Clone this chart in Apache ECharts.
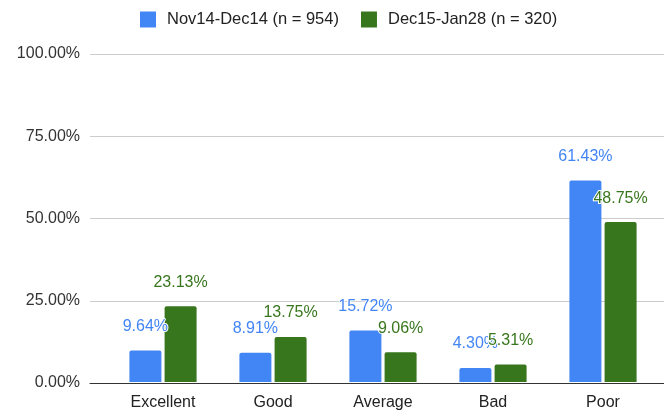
<!DOCTYPE html>
<html>
<head>
<meta charset="utf-8">
<script src="https://cdn.jsdelivr.net/npm/echarts@6/dist/echarts.min.js"></script>
<style>
  html, body { margin: 0; padding: 0; background: #fff; }
  #chart { width: 664px; height: 411px; }
</style>
</head>
<body>
<div id="chart"></div>
<script>
// data
const categories = ["Excellent", "Good", "Average", "Bad", "Poor"];
const seriesNames = ["Nov14-Dec14 (n = 954)", "Dec15-Jan28 (n = 320)"];
const earlyValues = [9.64, 8.91, 15.72, 4.30, 61.43];
const lateValues = [23.13, 13.75, 9.06, 5.31, 48.75];
const yTicks = [0, 25, 50, 75, 100];

const colors = ["#4285f4", "#38761d"];
const font = "'Liberation Sans', Arial, sans-serif";

let myChart = echarts.init(document.getElementById("chart"));

function barSeries(name, values, color) {
  return {
    name: name,
    type: "bar",
    xAxisIndex: 1,
    yAxisIndex: 1,
    barWidth: 32,
    barGap: "10%",
    data: values,
    itemStyle: { color: color, borderRadius: [2, 2, 0, 0] },
    label: {
      show: true,
      position: "top",
      distance: 16,
      color: color,
      fontFamily: font,
      fontSize: 16,
      textBorderColor: "#fff",
      textBorderWidth: 2,
      formatter: (p) => p.value.toFixed(2) + "%",
    },
  };
}

myChart.setOption({
  animation: false,
  color: colors,
  legend: {
    top: 6,
    left: 135,
    icon: "rect",
    itemWidth: 16,
    itemHeight: 16,
    itemGap: 22,
    textStyle: { fontFamily: font, fontSize: 16.5, color: "#222", padding: [0, 0, 0, 6] },
    data: seriesNames,
  },
  grid: [
    // full-width grid for gridlines and axis line
    { left: 90, right: 0, top: 54, bottom: 28 },
    // grid holding the bars
    { left: 108, right: 6, top: 54, bottom: 28 },
  ],
  xAxis: [
    {
      gridIndex: 0,
      type: "value",
      min: 0,
      max: 1,
      axisLine: { show: true, onZero: false, lineStyle: { color: "#333", width: 1 } },
      axisTick: { show: false },
      axisLabel: { show: false },
      splitLine: { show: false },
    },
    {
      gridIndex: 1,
      type: "category",
      data: categories,
      axisLine: { show: false },
      axisTick: { show: false },
      axisLabel: { margin: 13, fontFamily: font, fontSize: 16, color: "#222" },
    },
  ],
  yAxis: [
    {
      gridIndex: 0,
      type: "value",
      min: yTicks[0],
      max: yTicks[yTicks.length - 1],
      interval: 25,
      axisLine: { show: false },
      axisTick: { show: false },
      axisLabel: {
        margin: 10,
        fontFamily: font,
        fontSize: 16,
        color: "#333",
        formatter: (v) => v.toFixed(2) + "%",
      },
      splitLine: { lineStyle: { color: "#cccccc" } },
    },
    {
      gridIndex: 1,
      type: "value",
      min: yTicks[0],
      max: yTicks[yTicks.length - 1],
      interval: 25,
      show: false,
    },
  ],
  series: [
    barSeries(seriesNames[0], earlyValues, colors[0]),
    barSeries(seriesNames[1], lateValues, colors[1]),
  ],
});
</script>
</body>
</html>
